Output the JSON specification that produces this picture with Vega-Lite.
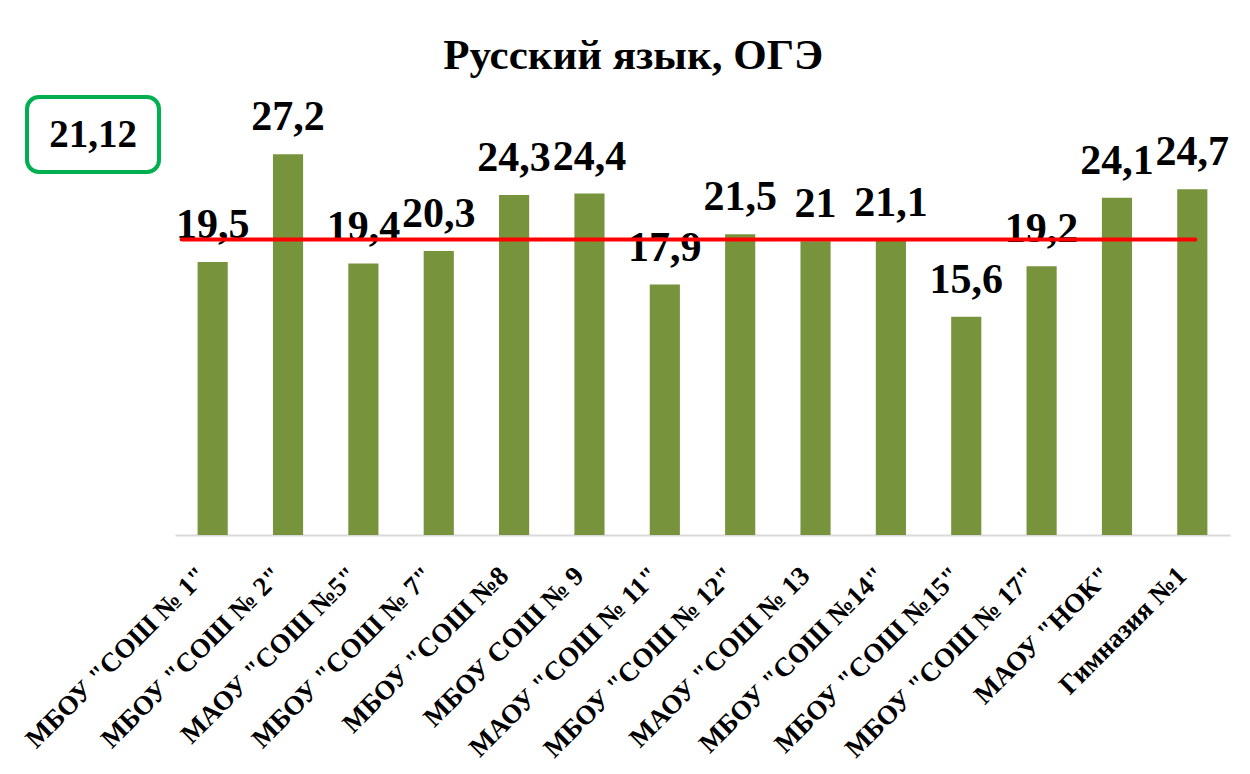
{
  "$schema": "https://vega.github.io/schema/vega-lite/v6.json",
  "background": "white",
  "padding": {"left": 20, "top": 35, "right": 10, "bottom": 5},
  "bounds": "flush",
  "spacing": 16,
  "title": {
    "text": "Русский язык, ОГЭ",
    "font": "Liberation Serif",
    "fontSize": 43,
    "fontWeight": "bold",
    "color": "#000000",
    "anchor": "middle",
    "offset": 17,
    "dx": 8
  },
  "config": {
    "locale": {"number": {"decimal": ",", "thousands": " ", "grouping": [3], "currency": ["", " ₽"]}}
  },
  "datasets": {
    "scores": [
      {"school": "МБОУ \"СОШ № 1\"", "score": 19.5},
      {"school": "МБОУ \"СОШ № 2\"", "score": 27.2},
      {"school": "МАОУ \"СОШ №5\"", "score": 19.4},
      {"school": "МБОУ \"СОШ № 7\"", "score": 20.3},
      {"school": "МБОУ \"СОШ №8", "score": 24.3},
      {"school": "МБОУ СОШ № 9", "score": 24.4},
      {"school": "МАОУ \"СОШ № 11\"", "score": 17.9},
      {"school": "МБОУ \"СОШ № 12\"", "score": 21.5},
      {"school": "МАОУ \"СОШ № 13", "score": 21},
      {"school": "МБОУ \"СОШ №14\"", "score": 21.1},
      {"school": "МБОУ \"СОШ №15\"", "score": 15.6},
      {"school": "МБОУ \"СОШ № 17\"", "score": 19.2},
      {"school": "МАОУ \"НОК\"", "score": 24.1},
      {"school": "Гимназия №1", "score": 24.7}
    ],
    "average": [{"avg": 21.12}]
  },
  "hconcat": [
    {
      "width": 132,
      "height": 75,
      "view": {"stroke": "#00B050", "strokeWidth": 4, "cornerRadius": 12, "fill": "white"},
      "data": {"name": "average"},
      "mark": {"type": "text", "font": "Liberation Serif", "fontSize": 39, "fontWeight": "bold", "color": "#000000", "baseline": "middle", "align": "center"},
      "encoding": {
        "text": {"field": "avg", "type": "quantitative", "format": ".2f"}
      }
    },
    {
      "width": 1055,
      "height": 438,
      "view": {"stroke": null},
      "layer": [
        {
          "data": {"name": "scores"},
          "mark": {"type": "bar", "color": "#77933C"},
          "encoding": {
            "x": {
              "field": "school",
              "type": "nominal",
              "sort": null,
              "scale": {"paddingInner": 0.6, "paddingOuter": 0.3},
              "axis": {
                "title": null,
                "labelAngle": -45,
                "labelFont": "Liberation Serif",
                "labelFontSize": 27,
                "labelFontWeight": "bold",
                "labelColor": "#000000",
                "labelPadding": 27,
                "labelOffset": -19,
                "labelLimit": 400,
                "ticks": false,
                "domainColor": "#D9D9D9",
                "domainWidth": 2
              }
            },
            "y": {
              "field": "score",
              "type": "quantitative",
              "scale": {"domain": [0, 31.3], "nice": false},
              "axis": null
            }
          }
        },
        {
          "data": {"name": "scores"},
          "mark": {"type": "text", "font": "Liberation Serif", "fontSize": 42, "fontWeight": "bold", "color": "#000000", "baseline": "alphabetic", "dy": -24},
          "encoding": {
            "x": {"field": "school", "type": "nominal", "sort": null},
            "y": {"field": "score", "type": "quantitative"},
            "text": {"field": "score", "type": "quantitative", "format": "~f"}
          }
        },
        {
          "data": {"name": "average"},
          "mark": {"type": "rule", "color": "#FF0000", "strokeWidth": 4, "strokeCap": "round", "xOffset": -31, "x2Offset": 3},
          "encoding": {
            "x": {"datum": "МБОУ \"СОШ № 1\"", "type": "nominal"},
            "x2": {"datum": "Гимназия №1"},
            "y": {"field": "avg", "type": "quantitative"}
          }
        }
      ]
    }
  ]
}
